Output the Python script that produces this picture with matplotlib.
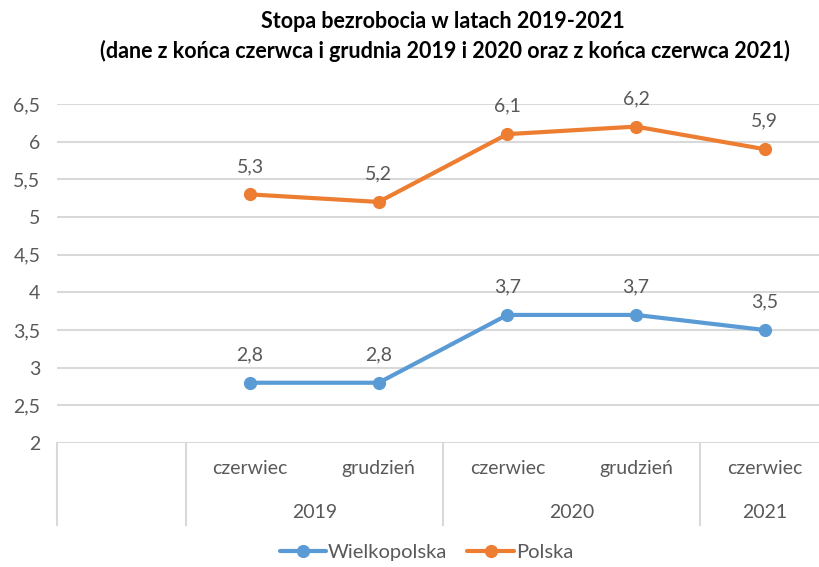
import matplotlib
matplotlib.use("Agg")
import matplotlib.pyplot as plt
import matplotlib.transforms as mtransforms

# data
months = ["", "czerwiec", "grudzień", "czerwiec", "grudzień", "czerwiec"]
years = ["2019", "2020", "2021"]
year_spans = [(1, 3), (3, 5), (5, 6)]
wielkopolska = [2.8, 2.8, 3.7, 3.7, 3.5]
polska = [5.3, 5.2, 6.1, 6.2, 5.9]
yticks = [2, 2.5, 3, 3.5, 4, 4.5, 5, 5.5, 6, 6.5]

plt.rcParams['font.family'] = ['Lato', 'DejaVu Sans']

blue = "#5B9BD5"
orange = "#ED7D31"
grey_txt = "#595959"
grid_c = "#d9d9d9"
fs = 14

fig = plt.figure(figsize=(8.2, 5.67), dpi=100)
ax = fig.add_axes([57 / 820, 1 - 443 / 567, (829 - 57) / 820, (443 - 104) / 567])

x = [i + 0.5 for i in range(1, len(months))]
ax.plot(x, wielkopolska, color=blue, lw=3, marker="o", ms=8.5, label="Wielkopolska",
        solid_capstyle="round", zorder=3)
ax.plot(x, polska, color=orange, lw=3, marker="o", ms=8.5, label="Polska",
        solid_capstyle="round", zorder=3)

for xi, v in zip(x, wielkopolska):
    ax.annotate(f"{v:.1f}".replace(".", ","), (xi, v), xytext=(0, 14), textcoords="offset points",
                ha="center", va="bottom", fontsize=fs, color=grey_txt)
for xi, v in zip(x, polska):
    ax.annotate(f"{v:.1f}".replace(".", ","), (xi, v), xytext=(0, 14), textcoords="offset points",
                ha="center", va="bottom", fontsize=fs, color=grey_txt)

ax.set_xlim(0, 6)
ax.set_ylim(2, 6.5)
ax.set_yticks(yticks)
ax.set_yticklabels([f"{t:g}".replace(".", ",") for t in yticks], fontsize=fs, color=grey_txt)
ax.tick_params(axis="y", length=0, pad=12)
ax.set_xticks([])
for s in ax.spines.values():
    s.set_visible(False)
ax.yaxis.grid(True, color=grid_c, lw=1.5)
ax.set_axisbelow(True)

# multi-level category axis
tr = mtransforms.blended_transform_factory(ax.transData, ax.transAxes)
for bx in [0, 1, 3, 5]:
    ax.plot([bx, bx], [0, -0.242], transform=tr, color=grid_c, lw=1.5, clip_on=False)
for i, m in enumerate(months):
    ax.text(i + 0.5, -0.074, m, transform=tr, ha="center", va="center", fontsize=fs, color=grey_txt)
for y, (a, b) in zip(years, year_spans):
    ax.text((a + b) / 2, -0.204, y, transform=tr, ha="center", va="center", fontsize=fs, color=grey_txt)

fig.text(0.54, 0.962, "Stopa bezrobocia w latach 2019-2021", ha="center", va="center",
         fontsize=15.5, fontweight="bold")
fig.text(0.543, 0.910, "(dane z końca czerwca i grudnia 2019 i 2020 oraz z końca czerwca 2021)",
         ha="center", va="center", fontsize=15.5, fontweight="bold")

fig.legend(loc="center", bbox_to_anchor=(0.52, 0.025), ncol=2, frameon=False, fontsize=14.5,
           handlelength=2.3, columnspacing=1.0, handletextpad=0.1, labelcolor=grey_txt)

fig.savefig("out.png", dpi=100)
